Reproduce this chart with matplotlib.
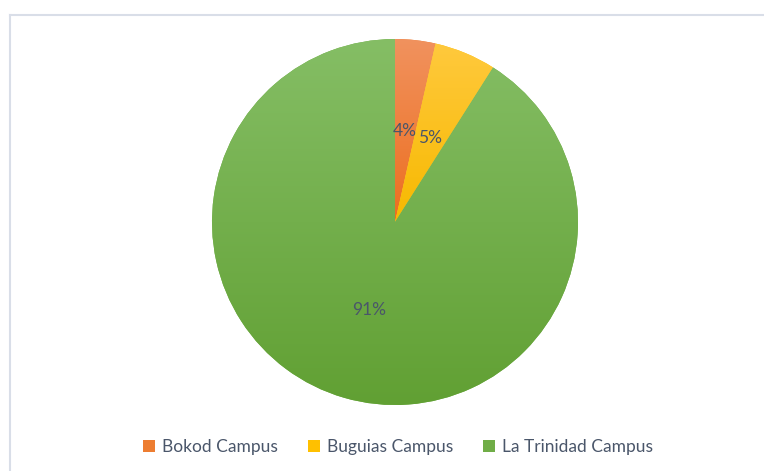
import numpy as np
import matplotlib
matplotlib.use("Agg")
import matplotlib.pyplot as plt
from matplotlib.colors import LinearSegmentedColormap
from matplotlib.lines import Line2D

# campus share of the total (percent)
campuses = ["Bokod Campus", "Buguias Campus", "La Trinidad Campus"]
shares = [3.55, 5.45, 91.0]
base_colors = ["#ED7D31", "#FFC000", "#70AD47"]
# (top, bottom) shades used for the Excel-like gradient fill
shades = [("#F1925E", "#EC6E1F"), ("#FFC93D", "#F7B900"), ("#85BE65", "#61A033")]

TEXT_COLOR = "#4A566A"
FONT = "Lato"

W, H = 764, 471
fig = plt.figure(figsize=(W / 100, H / 100), dpi=100)

# pie area in pixels: centre (395, 222), radius 183
cx, cy, r = 395, 222, 183
ax = fig.add_axes([(cx - r) / W, (H - cy - r) / H, 2 * r / W, 2 * r / H])

wedges, _, autotexts = ax.pie(
    shares, colors=base_colors, startangle=90, counterclock=False,
    autopct=lambda p: f"{p:.0f}%", pctdistance=0.5,
    wedgeprops=dict(linewidth=0),
    textprops=dict(color=TEXT_COLOR, fontsize=12.5, family=FONT),
)
ax.set_aspect("equal")
ax.axis("off")

# gradient fill clipped to each wedge
for w, (top, bottom) in zip(wedges, shades):
    ext = w.get_path().get_extents()
    cmap = LinearSegmentedColormap.from_list("g", [bottom, top])
    grad = np.linspace(0, 1, 256).reshape(-1, 1)
    im = ax.imshow(grad, cmap=cmap, origin="lower", aspect="auto",
                   extent=[ext.x0, ext.x1, ext.y0, ext.y1], zorder=1.5,
                   interpolation="bilinear")
    im.set_clip_path(w)
for t in autotexts:
    t.set_zorder(3)

ax.set_xlim(-1, 1)
ax.set_ylim(-1, 1)

fig.legend(wedges, campuses, loc="center", bbox_to_anchor=(0.521, 0.051),
           ncol=3, frameon=False, handlelength=0.7, handleheight=0.7,
           handletextpad=0.4, columnspacing=1.7,
           prop=dict(family=FONT, size=12.5), labelcolor=TEXT_COLOR)

# light chart-area border (only top and left visible in the crop)
border = dict(color="#D9DEE8", linewidth=1.5, transform=fig.transFigure)
y_top = (H - 14.5) / H
x_left = 10 / W
fig.add_artist(Line2D([x_left, x_left], [0, y_top], **border))
fig.add_artist(Line2D([x_left, 1], [y_top, y_top], **border))

fig.savefig("out.png", dpi=100, facecolor="white")
